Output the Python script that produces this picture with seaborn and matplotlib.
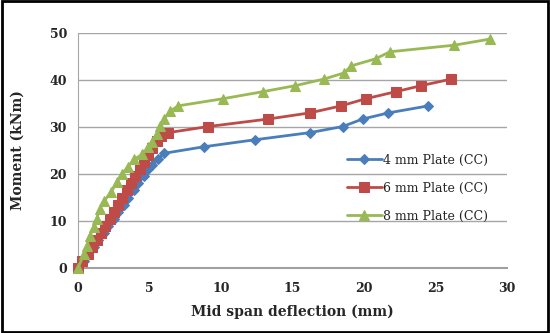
import matplotlib
matplotlib.use("Agg")
import matplotlib.pyplot as plt
import seaborn as sns
import pandas as pd
from matplotlib.patches import Rectangle

# Data
defl_4mm = [0, 0.4, 0.7, 1.1, 1.4, 1.8, 2.1, 2.5, 2.8, 3.2, 3.5, 3.9, 4.2, 4.6, 4.9, 5.2, 5.6, 6.0,
            8.8, 12.4, 16.2, 18.5, 19.9, 21.7, 24.5]
moment_4mm = [0, 1.5, 3.0, 4.5, 6.0, 7.5, 9.0, 10.5, 12.0, 13.5, 15.0, 16.5, 18.0, 19.5, 21.0, 22.0, 23.2, 24.4,
              25.8, 27.3, 28.8, 30.1, 31.7, 33.0, 34.5]

defl_6mm = [0, 0.3, 0.7, 1.0, 1.3, 1.6, 1.9, 2.2, 2.5, 2.8, 3.1, 3.4, 3.7, 4.0, 4.3, 4.6, 4.9, 5.2, 5.5, 5.8, 6.3,
            9.1, 13.3, 16.2, 18.4, 20.1, 22.2, 24.0, 26.1]
moment_6mm = [0, 1.5, 3.0, 4.5, 6.0, 7.5, 9.0, 10.5, 12.0, 13.5, 15.0, 16.5, 18.0, 19.5, 21.0, 22.5, 24.0, 25.5, 27.0, 28.0, 28.8,
              30.1, 31.7, 33.0, 34.5, 36.0, 37.5, 38.8, 40.2]

defl_8mm = [0, 0.4, 0.6, 0.8, 1.1, 1.3, 1.5, 1.8, 2.3, 2.7, 3.1, 3.5, 3.9, 4.5, 4.9, 5.2, 5.5, 5.7, 6.0, 6.4,
            7.0, 10.1, 12.9, 15.2, 17.2, 18.6, 19.1, 20.8, 21.8, 26.3, 28.8]
moment_8mm = [0, 3.0, 4.7, 6.8, 8.7, 10.4, 12.5, 14.2, 16.1, 18.2, 20.1, 21.6, 23.1, 24.2, 25.8, 26.9, 28.6, 30.3, 31.6, 33.3,
              34.5, 36.0, 37.5, 38.8, 40.2, 41.5, 43.0, 44.5, 46.0, 47.4, 48.7]

series_names = ["4 mm Plate (CC)", "6 mm Plate (CC)", "8 mm Plate (CC)"]
series_x = [defl_4mm, defl_6mm, defl_8mm]
series_y = [moment_4mm, moment_6mm, moment_8mm]
colors = ["#4A7EBB", "#BE4B48", "#98B954"]
markers = ["D", "s", "^"]
msizes = [5, 6.5, 7.5]

x_ticks = [0, 5, 10, 15, 20, 25, 30]
y_ticks = [0, 10, 20, 30, 40, 50]

sns.set_style("white")
plt.rcParams["font.family"] = ["DejaVu Serif"]

fig = plt.figure(figsize=(5.5, 3.33), dpi=100)
ax = fig.add_axes([0.142, 0.195, 0.78, 0.706])

for name, xs, ys, c, m, ms in zip(series_names, series_x, series_y, colors, markers, msizes):
    df = pd.DataFrame({"x": xs, "y": ys})
    sns.lineplot(data=df, x="x", y="y", ax=ax, color=c, marker=m, markersize=ms,
                 markeredgecolor=c, linewidth=2, estimator=None, sort=False,
                 label=name, clip_on=False, zorder=3)

ax.set_xlim(0, 30)
ax.set_ylim(0, 50)
ax.set_xticks(x_ticks)
ax.set_yticks(y_ticks)
ax.grid(axis="y", color="#a6a6a6", linewidth=1)
ax.set_axisbelow(True)
for s in ["top", "right"]:
    ax.spines[s].set_visible(False)
ax.spines["left"].set_color("#a6a6a6")
ax.spines["bottom"].set_color("#a0a0a0")
ax.spines["bottom"].set_linewidth(1.5)
ax.tick_params(axis="x", length=0, labelsize=9, pad=10)
ax.tick_params(axis="y", length=0, labelsize=9, pad=8)
for lbl in ax.get_xticklabels() + ax.get_yticklabels():
    lbl.set_fontweight("bold")

ax.set_xlabel("Mid span deflection (mm)", fontsize=10, fontweight="bold", labelpad=7)
ax.set_ylabel("Moment (kNm)", fontsize=10, fontweight="bold", labelpad=18)

leg = ax.legend(loc="center left", bbox_to_anchor=(0.6, 0.34), frameon=False,
                fontsize=9, handlelength=2.8, handletextpad=0.1, labelspacing=1.2)

fig.patches.append(Rectangle((0.003, 0.004), 0.994, 0.992, transform=fig.transFigure,
                             fill=False, edgecolor="black", linewidth=2))

fig.savefig("out.png", dpi=100)
